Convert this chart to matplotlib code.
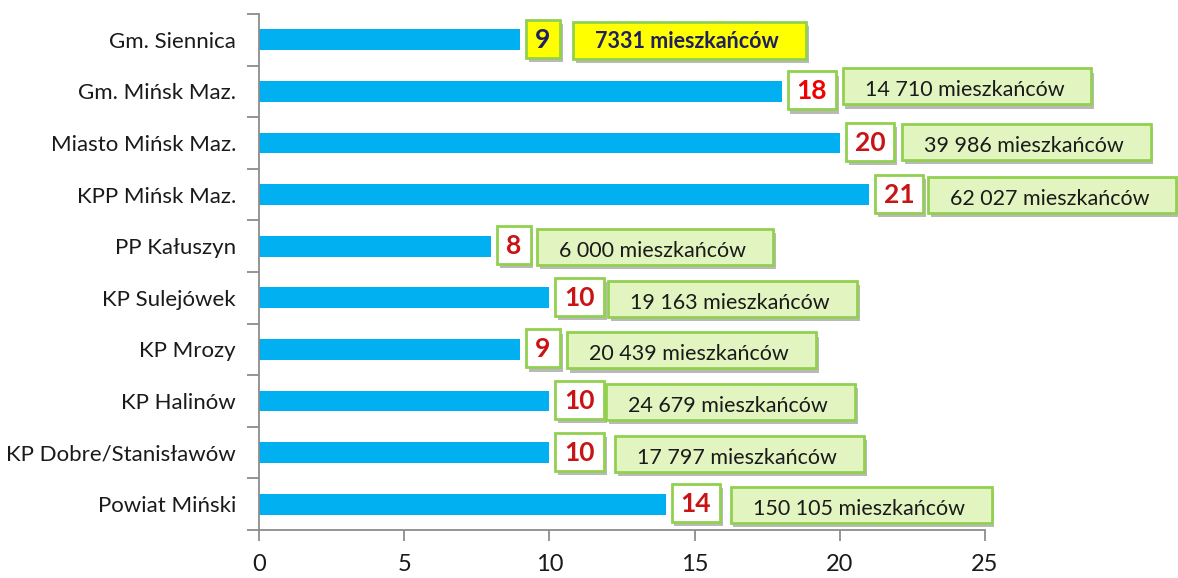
import matplotlib
matplotlib.use("Agg")
import matplotlib.pyplot as plt
import numpy as np
from matplotlib.path import Path
import matplotlib.patheffects as pe

# ---- data ----
categories = ["Gm. Siennica", "Gm. Mińsk Maz.", "Miasto Mińsk Maz.", "KPP Mińsk Maz.",
              "PP Kałuszyn", "KP Sulejówek", "KP Mrozy", "KP Halinów",
              "KP Dobre/Stanisławów", "Powiat Miński"]
values = [9, 18, 20, 21, 8, 10, 9, 10, 10, 14]
residents = ["7331", "14 710", "39 986", "62 027", "6 000", "19 163",
             "20 439", "24 679", "17 797", "150 105"]
unit = "mieszkańców"
xticks = [0, 5, 10, 15, 20, 25]

# ---- layout / style ----
box_dx = [53, 61, 62, 59, 46, 59, 47, 57, 66, 65]      # px from bar end to text-box left
box_dy = [0, 6, 2, 1, 0, 0, 0, 0, 0, 0]                # px shift up
BAR = "#00B0F0"
GREEN = "#92D050"
FILL = "#E2F5C0"
FONT = "Lato"

plt.rcParams["font.family"] = [FONT, "DejaVu Sans"]

fig = plt.figure(figsize=(11.78, 5.78), dpi=100)
ax = fig.add_axes([259 / 1178, 1 - 530 / 578, (985 - 259) / 1178, (530 - 14) / 578])

y = np.arange(len(categories))
ax.barh(y, values, height=0.4, color=BAR, zorder=2)
ax.set_ylim(len(categories) - 0.5, -0.5)
ax.set_xlim(0, 25)

for s in ["top", "right"]:
    ax.spines[s].set_visible(False)
for s in ["left", "bottom"]:
    ax.spines[s].set_color("#8C8C8C")
    ax.spines[s].set_linewidth(1.3)

ax.set_yticks(y)
ax.set_yticklabels(categories, fontsize=16, color="#1A1A1A")
ax.tick_params(axis="y", which="major", length=0, pad=16.5)
ax.set_yticks(np.arange(-0.5, len(categories), 1), minor=True)
ax.tick_params(axis="y", which="minor", length=9, width=1.3, color="#8C8C8C")
ax.set_xticks(xticks)
ax.set_xticklabels([str(t) for t in xticks], fontsize=17, color="#1A1A1A")
ax.tick_params(axis="x", length=8, width=1.3, color="#8C8C8C", pad=9)


def make_box(pl, pr, pt, pb):
    def style(x0, y0, w, h, mutation_size):
        xa, xb = x0 - pl, x0 + w + pr
        ya, yb = y0 - pb, y0 + h + pt
        return Path([(xa, ya), (xb, ya), (xb, yb), (xa, yb), (xa, ya)], closed=True)
    return style


shadow = [pe.withSimplePatchShadow(offset=(2, -3), shadow_rgbFace="#808080", alpha=0.55)]

for i, (v, r) in enumerate(zip(values, residents)):
    first = i == 0
    # value label box
    vcol = "#1F2060" if first else ("#F00000" if i == 1 else "#C81414")
    t = ax.annotate(str(v), xy=(v, i), xytext=(15, 0), textcoords="offset pixels",
                    ha="left", va="center", fontsize=19, fontweight="bold", color=vcol,
                    bbox=dict(boxstyle=make_box(9, 9, 8, 6),
                              fc="#FFFF00" if first else "white", ec=GREEN, lw=2),
                    zorder=5, annotation_clip=False)
    t.get_bbox_patch().set_path_effects(shadow)
    # residents box
    pl = 22
    t2 = ax.annotate(f"{r} {unit}", xy=(v, i), xytext=(box_dx[i] + pl, box_dy[i] - (2 if first else 5)),
                     textcoords="offset pixels", ha="left", va="center",
                     fontsize=15.5, fontweight="bold" if first else "normal",
                     color="#1F2060" if first else "#1A1A1A",
                     bbox=dict(boxstyle=make_box(pl, 27, 12 if not first else 9, 4 if not first else 7),
                               fc="#FFFF00" if first else FILL, ec=GREEN, lw=2),
                     zorder=5, annotation_clip=False)
    t2.get_bbox_patch().set_path_effects(shadow)

fig.savefig("out.png", dpi=100)
